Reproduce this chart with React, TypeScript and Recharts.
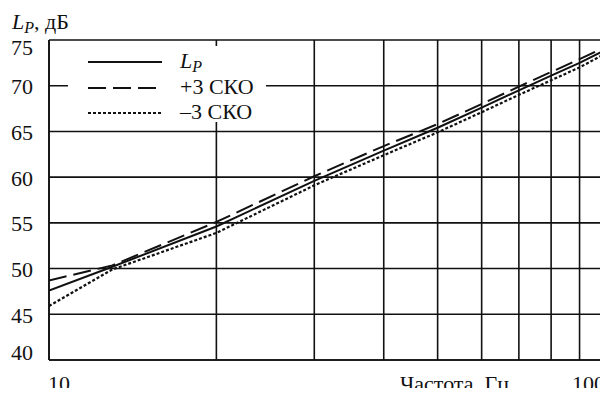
import { LineChart, Line, XAxis, YAxis, CartesianGrid } from "recharts";

// частоты, Гц (логарифмическая шкала)
const freqs = [10, 13, 20, 30, 40, 50, 60, 70, 80, 90, 100];
// уровни, дБ
const lp = [47.6, 50.2, 54.6, 59.6, 62.9, 65.4, 67.6, 69.5, 71.1, 72.5, 73.9];
const plus3 = [48.7, 50.35, 55.1, 60.1, 63.4, 65.8, 68.0, 69.9, 71.5, 72.9, 74.2];
const minus3 = [45.9, 49.9, 53.9, 59.1, 62.4, 64.9, 67.1, 69.0, 70.6, 72.0, 73.5];

const xTicks = [10, 20, 30, 40, 50, 60, 70, 80, 90, 100];
const yTicks = [40, 45, 50, 55, 60, 65, 70, 75];

const legendItems = [
  { key: "lp", dash: undefined as string | undefined },
  { key: "plus3", dash: "18 7" },
  { key: "minus3", dash: "3 2" },
];

const data = freqs.map((f, i) => ({ f, lp: lp[i], plus3: plus3[i], minus3: minus3[i] }));

const FONT = "'Liberation Serif', 'Times New Roman', serif";
const INK = "#111";
const FS = 22;

function YTick({ y, payload }: any) {
  let dy = 8.5;
  if (payload.value === 75) dy = 15;
  if (payload.value === 40) dy = 0;
  return (
    <text x={33} y={y + dy} textAnchor="end" fontSize={FS} fontFamily={FONT} fill={INK}>
      {payload.value}
    </text>
  );
}

function XTick({ x, payload }: any) {
  if (payload.value === 10) {
    return (
      <text x={x - 1} y={391} textAnchor="start" fontSize={FS} fontFamily={FONT} fill={INK}>
        10
      </text>
    );
  }
  if (payload.value === 100) {
    return (
      <text x={x} y={391} textAnchor="end" fontSize={FS} fontFamily={FONT} fill={INK}>
        100
      </text>
    );
  }
  return null;
}

function LegendLabel({ k }: { k: string }) {
  if (k === "lp") {
    return (
      <span>
        <i>L</i>
        <i style={{ fontSize: 16, position: "relative", top: 4 }}>P</i>
      </span>
    );
  }
  return <span>{k === "plus3" ? "+3 СКО" : "–3 СКО"}</span>;
}

export default function App() {
  return (
    <div style={{ position: "relative", width: 608, height: 396, margin: -8, background: "#fff", fontFamily: FONT }}>
      <LineChart width={608} height={396} data={data} margin={{ top: 40, right: 3, left: 0, bottom: 0 }}>
        <CartesianGrid stroke={INK} strokeWidth={1.6} />
        <XAxis
          dataKey="f"
          type="number"
          scale="log"
          domain={[10, 100]}
          ticks={xTicks}
          interval={0}
          height={36}
          tick={<XTick />}
          tickLine={false}
          axisLine={{ stroke: INK, strokeWidth: 1.6 }}
          allowDataOverflow
        />
        <YAxis
          type="number"
          domain={[40, 75]}
          ticks={yTicks}
          interval={0}
          width={49}
          tick={<YTick />}
          tickLine={false}
          axisLine={{ stroke: INK, strokeWidth: 1.6 }}
        />
        <Line dataKey="lp" stroke={INK} strokeWidth={2} dot={false} isAnimationActive={false} />
        <Line dataKey="plus3" stroke={INK} strokeWidth={2} strokeDasharray="18 7" dot={false} isAnimationActive={false} />
        <Line dataKey="minus3" stroke={INK} strokeWidth={2.2} strokeDasharray="3 2" dot={false} isAnimationActive={false} />
        <text x={12} y={29} fontSize={FS} fontFamily={FONT} fill={INK}>
          <tspan fontStyle="italic">L</tspan>
          <tspan fontStyle="italic" fontSize={16} dy={4}>P</tspan>
          <tspan dy={-4}>, дБ</tspan>
        </text>
        <text x={400} y={391} fontSize={FS} fontFamily={FONT} fill={INK}>
          Частота, Гц
        </text>
      </LineChart>
      <div
        style={{
          position: "absolute",
          left: 68,
          top: 46,
          width: 198,
          height: 76,
          background: "#fff",
          fontSize: FS,
          color: INK,
        }}
      >
        {legendItems.map((it, i) => (
          <div key={it.key} style={{ position: "absolute", left: 0, top: 2 + i * 25.5, height: 26, display: "flex", alignItems: "center" }}>
            <svg width={112} height={26} style={{ display: "block" }}>
              <line x1={20} x2={94} y1={14} y2={14} stroke={INK} strokeWidth={2} strokeDasharray={it.dash} />
            </svg>
            <LegendLabel k={it.key} />
          </div>
        ))}
      </div>
    </div>
  );
}
